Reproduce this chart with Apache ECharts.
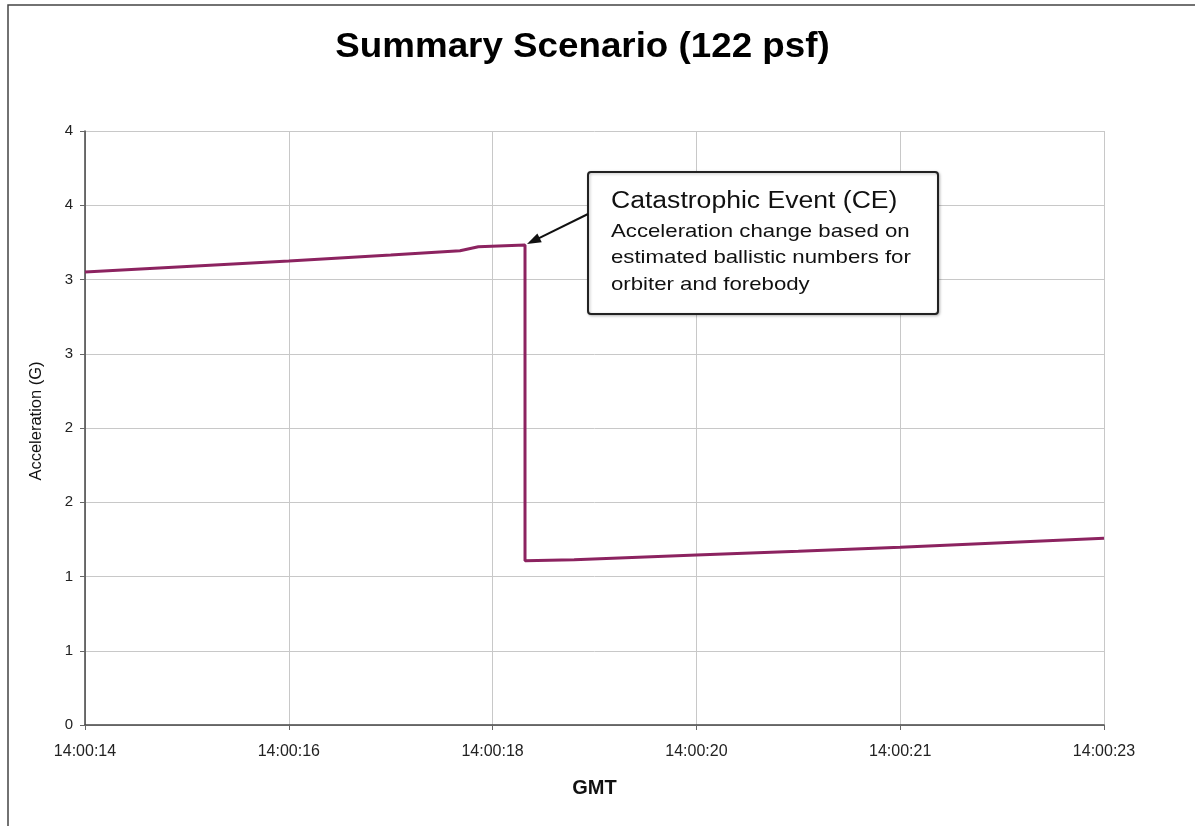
<!DOCTYPE html>
<html><head><meta charset="utf-8">
<script src="https://cdn.jsdelivr.net/npm/echarts@6/dist/echarts.min.js"></script>
<style>html,body{margin:0;padding:0;background:#fff}#c{width:1195px;height:826px}</style>
</head><body><div id="c"></div>
<script>
// x positions in tick units (0 = first labelled tick, 5 = last)
var xTickLabels = ["14:00:14","14:00:16","14:00:18","14:00:20","14:00:21","14:00:23"];
var yTickLabels = ["0","1","1","2","2","3","3","4","4"];
var timeX  = [0, 0.5, 1.0, 1.5, 1.84, 1.93, 2.159, 2.159, 2.4, 3.0, 3.5, 4.0, 4.5, 5.0];
var accelG = [3.051, 3.088, 3.125, 3.165, 3.194, 3.221, 3.232, 1.106, 1.112, 1.145, 1.170, 1.197, 1.228, 1.257];
var ceIndex = 6;
var titleText = "Summary Scenario (122 psf)";
var noteTitle = "Catastrophic Event (CE)";
var noteLines = ["Acceleration change based on","estimated ballistic numbers for","orbiter and forebody"];

var data = timeX.map(function(x,i){return [x, accelG[i]];});
var chart = echarts.init(document.getElementById('c'), null, {renderer:'canvas'});
var F = "'Liberation Sans', Arial, sans-serif";
chart.setOption({
  animation:false,
  grid:{left:85,right:91,top:131,bottom:101},
  xAxis:{type:'value',min:0,max:5,interval:1,
    name:'GMT',nameLocation:'middle',nameGap:53,
    nameTextStyle:{fontFamily:F,fontSize:20,fontWeight:'bold',color:'#111'},
    axisLine:{show:true,lineStyle:{color:'#444',width:1.5}},
    axisTick:{show:true,length:5,lineStyle:{color:'#666'}},
    axisLabel:{fontFamily:F,fontSize:16,color:'#222',margin:19,
      formatter:function(v){return xTickLabels[Math.round(v)];}},
    splitLine:{show:true,lineStyle:{color:'#c8c8c8',width:1}}},
  yAxis:{type:'value',min:0,max:4,interval:0.5,
    name:'Acceleration (G)',nameLocation:'middle',nameGap:40,
    nameTextStyle:{fontFamily:F,fontSize:16.5,color:'#111',padding:[0,0,0,14]},
    axisLine:{show:true,lineStyle:{color:'#444',width:1.5}},
    axisTick:{show:true,length:5,lineStyle:{color:'#666'}},
    axisLabel:{fontFamily:F,fontSize:15,color:'#222',margin:12,
      formatter:function(v){return yTickLabels[Math.round(v*2)];}},
    splitLine:{show:true,lineStyle:{color:'#c8c8c8',width:1}}},
  series:[{type:'line',data:data,showSymbol:false,
    lineStyle:{color:'#8c2360',width:3},z:5}]
});

var ce = chart.convertToPixel({gridIndex:0}, data[ceIndex]);
var boxX=588, boxY=172, boxW=350, boxH=142;
var textX = 611;
var lineGraphics = noteLines.map(function(t,i){
  return {type:'text',x:textX,y:231.5+i*26.9,scaleX:1.2,z:20,
    style:{x:0,y:0,text:t,font:'18.5px '+F,fill:'#111',verticalAlign:'middle'}};
});
chart.setOption({graphic:[
  {type:'rect',shape:{x:8,y:5,width:1250,height:900},
    style:{fill:'none',stroke:'#444',lineWidth:1.5},z:-1,silent:true},
  {type:'text',x:582.5,y:47,scaleX:1.05,z:20,
    style:{x:0,y:0,text:titleText,font:'bold 35px '+F,fill:'#000',align:'center',verticalAlign:'middle'}},
  {type:'rect',shape:{x:boxX,y:boxY,width:boxW,height:boxH,r:3},z:15,
    style:{fill:'#fff',stroke:'#222',lineWidth:2,shadowBlur:3,shadowColor:'rgba(0,0,0,0.25)',shadowOffsetX:1,shadowOffsetY:1}},
  {type:'text',x:textX,y:201.3,scaleX:1.155,z:20,
    style:{x:0,y:0,text:noteTitle,font:'23px '+F,fill:'#111',verticalAlign:'middle'}},
  {type:'line',z:20,shape:{x1:boxX,y1:boxY+42,x2:ce[0]+10,y2:ce[1]-5},
    style:{stroke:'#111',lineWidth:2}},
  {type:'polygon',z:20,
    shape:{points:(function(){
      var tx=ce[0]+2, ty=ce[1]-1;
      var dx=boxX-tx, dy=boxY+42-ty, L=Math.sqrt(dx*dx+dy*dy); dx/=L; dy/=L;
      var bx=tx+dx*14, by=ty+dy*14, px=-dy, py=dx;
      return [[tx,ty],[bx+px*5,by+py*5],[bx-px*5,by-py*5]];})()},
    style:{fill:'#111'}}
].concat(lineGraphics)});
</script></body></html>
